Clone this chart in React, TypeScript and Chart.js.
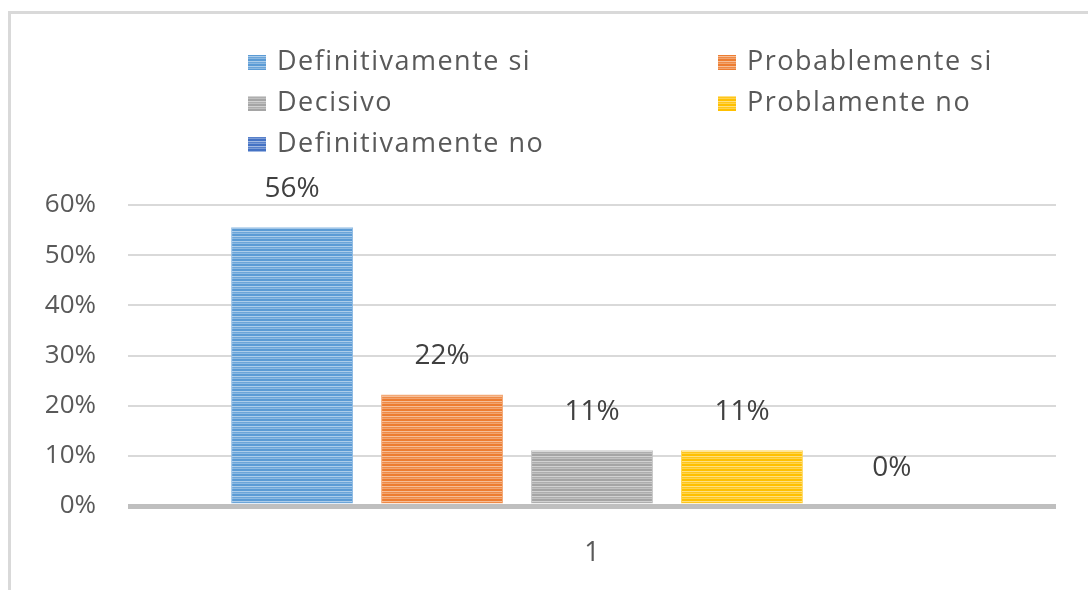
import React, { useEffect, useRef } from "react";
import { Chart, registerables } from "chart.js";

Chart.register(...registerables);

const categories = ["1"];
const seriesNames = [
  "Definitivamente si",
  "Probablemente si",
  "Decisivo",
  "Problamente no",
  "Definitivamente no",
];
const seriesValues = [[0.5556], [0.2222], [0.1111], [0.1111], [0]];
const seriesColors = ["#5B9BD5", "#ED7D31", "#A5A5A5", "#FFC000", "#4472C4"];
const yMin = 0;
const yMax = 0.6;
const yStep = 0.1;

const FONT = "'Open Sans', 'DejaVu Sans', sans-serif";

function mix(hex: string, t: number) {
  const r = parseInt(hex.slice(1, 3), 16);
  const g = parseInt(hex.slice(3, 5), 16);
  const b = parseInt(hex.slice(5, 7), 16);
  const f = (v: number) => Math.round(v + (255 - v) * t);
  return `rgb(${f(r)},${f(g)},${f(b)})`;
}

function stripes(hex: string) {
  const c = document.createElement("canvas");
  c.width = 4;
  c.height = 5;
  const g = c.getContext("2d")!;
  const rows = [0, 0, 0.5, 0.1, 0.3];
  rows.forEach((t, i) => {
    g.fillStyle = mix(hex, t);
    g.fillRect(0, i, 4, 1);
  });
  return g.createPattern(c, "repeat")!;
}

const legendPlugin = {
  id: "gridLegend",
  afterDraw(chart: any) {
    const ctx = chart.ctx as CanvasRenderingContext2D;
    ctx.save();
    ctx.font = `27px ${FONT}`;
    (ctx as any).letterSpacing = "1.5px";
    ctx.textBaseline = "middle";
    ctx.textAlign = "left";
    const colX = [237, 707];
    const rowY = [48, 89, 130];
    chart.data.datasets.forEach((ds: any, i: number) => {
      const bx = colX[i % 2];
      const ty = rowY[Math.floor(i / 2)];
      ctx.fillStyle = ds.backgroundColor;
      ctx.fillRect(bx, ty - 7, 18, 15);
      ctx.fillStyle = "#595959";
      ctx.fillText(ds.label, bx + 29, ty);
    });
    ctx.restore();
  },
};

const valueLabelPlugin = {
  id: "valueLabels",
  afterDatasetsDraw(chart: any) {
    const ctx = chart.ctx as CanvasRenderingContext2D;
    ctx.save();
    ctx.font = `28px ${FONT}`;
    ctx.fillStyle = "#404040";
    ctx.textAlign = "center";
    ctx.textBaseline = "middle";
    chart.data.datasets.forEach((ds: any, i: number) => {
      const meta = chart.getDatasetMeta(i);
      meta.data.forEach((el: any, j: number) => {
        const v = ds.data[j];
        ctx.fillText(Math.round(v * 100) + "%", el.x, el.y - 38);
      });
    });
    ctx.restore();
  },
};

export default function App() {
  const ref = useRef<HTMLCanvasElement>(null);

  useEffect(() => {
    if (!ref.current) return;
    const chart = new Chart(ref.current, {
      type: "bar",
      data: {
        labels: categories,
        datasets: seriesNames.map((name, i) => ({
          label: name,
          data: seriesValues[i],
          backgroundColor: stripes(seriesColors[i]) as any,
          borderColor: mix(seriesColors[i], 0.35),
          borderWidth: 1,
          categoryPercentage: 0.808,
          barPercentage: 0.813,
        })),
      },
      options: {
        animation: false,
        responsive: true,
        maintainAspectRatio: false,
        layout: { padding: { top: 191, right: 32, left: 0, bottom: 0 } },
        plugins: {
          legend: { display: false },
          tooltip: { enabled: false },
        },
        scales: {
          x: {
            grid: { display: false, drawTicks: false },
            border: { display: false },
            ticks: {
              color: "#595959",
              font: { family: FONT, size: 27 },
              padding: 31,
            },
            afterFit: (s: any) => {
              s.height = 84;
            },
          },
          y: {
            min: yMin,
            max: yMax,
            ticks: {
              stepSize: yStep,
              color: "#595959",
              font: { family: FONT, size: 26 },
              padding: 32,
              callback: (v: any) => Math.round(Number(v) * 100) + "%",
            },
            grid: {
              drawTicks: false,
              color: (c: any) => (c.tick && c.tick.value === 0 ? "#BFBFBF" : "#D9D9D9"),
              lineWidth: (c: any) => (c.tick && c.tick.value === 0 ? 5 : 2),
            },
            border: { display: false },
            afterFit: (s: any) => {
              s.width = 117;
            },
          },
        },
      },
      plugins: [legendPlugin, valueLabelPlugin],
    });
    return () => chart.destroy();
  }, []);

  return (
    <div
      style={{
        position: "fixed",
        left: 8,
        top: 11,
        width: 1080,
        height: 579,
        boxSizing: "border-box",
        borderLeft: "3px solid #D9D9D9",
        borderTop: "3px solid #D9D9D9",
        background: "#fff",
      }}
    >
      <div style={{ position: "relative", width: "100%", height: "100%" }}>
        <canvas ref={ref} />
      </div>
    </div>
  );
}
